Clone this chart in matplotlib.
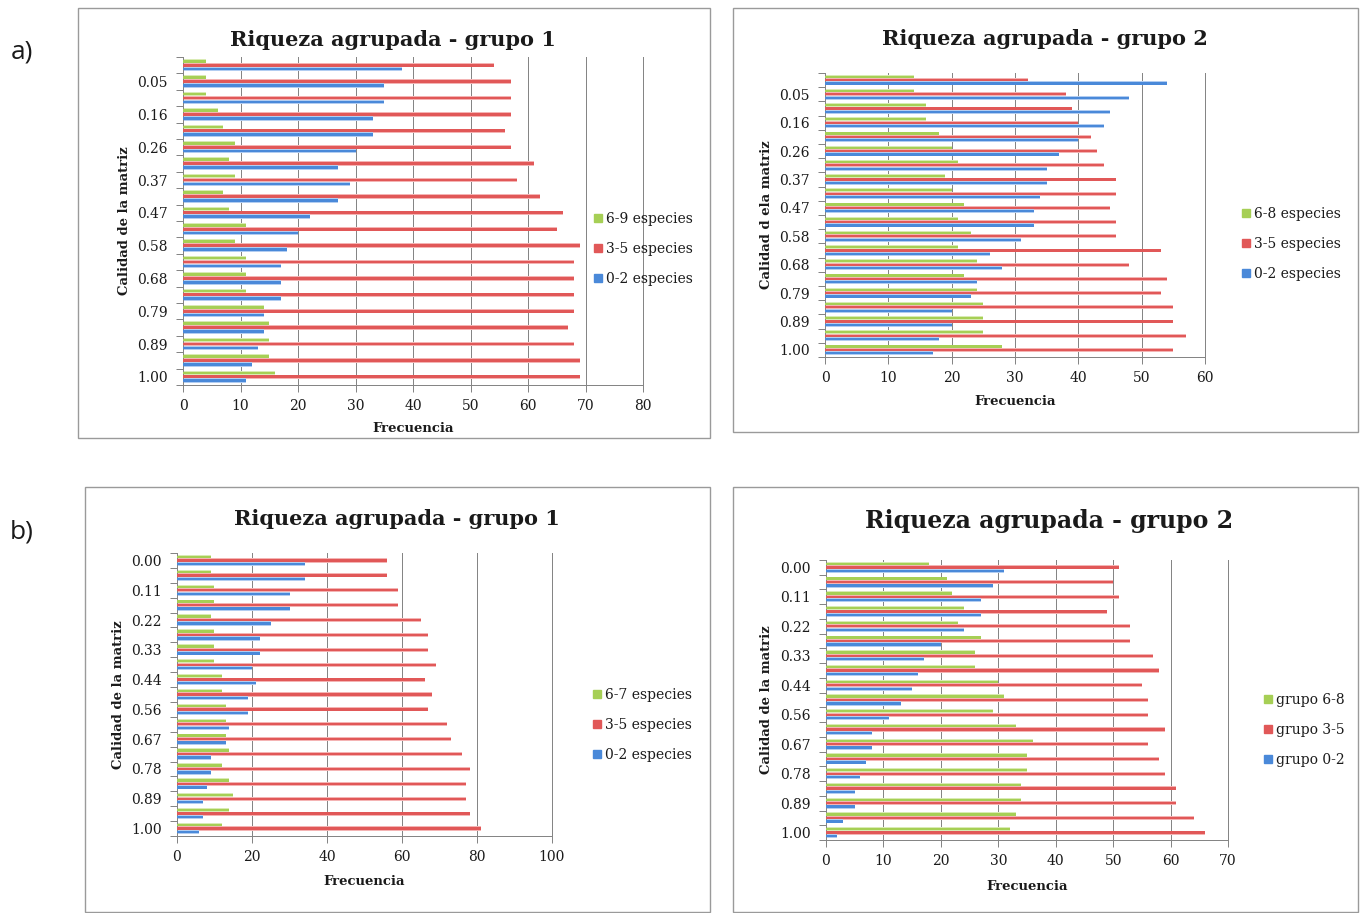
import numpy as np
import matplotlib
matplotlib.use("Agg")
import matplotlib.pyplot as plt
from matplotlib.lines import Line2D
from matplotlib.patches import Rectangle

# ---- data -------------------------------------------------------------
cats_a = ["0.00", "0.05", "0.11", "0.16", "0.21", "0.26", "0.32", "0.37", "0.42", "0.47",
          "0.53", "0.58", "0.63", "0.68", "0.74", "0.79", "0.84", "0.89", "0.95", "1.00"]
cats_b = ["0.00", "0.06", "0.11", "0.17", "0.22", "0.28", "0.33", "0.39", "0.44", "0.50",
          "0.56", "0.61", "0.67", "0.72", "0.78", "0.83", "0.89", "0.94", "1.00"]

# a) grupo 1
a1_high = [4, 4, 4, 6, 7, 9, 8, 9, 7, 8, 11, 9, 11, 11, 11, 14, 15, 15, 15, 16]
a1_mid = [54, 57, 57, 57, 56, 57, 61, 58, 62, 66, 65, 69, 68, 68, 68, 68, 67, 68, 69, 69]
a1_low = [38, 35, 35, 33, 33, 30, 27, 29, 27, 22, 20, 18, 17, 17, 17, 14, 14, 13, 12, 11]

# a) grupo 2
a2_high = [14, 14, 16, 16, 18, 20, 21, 19, 20, 22, 21, 23, 21, 24, 22, 24, 25, 25, 25, 28]
a2_mid = [32, 38, 39, 40, 42, 43, 44, 46, 46, 45, 46, 46, 53, 48, 54, 53, 55, 55, 57, 55]
a2_low = [54, 48, 45, 44, 40, 37, 35, 35, 34, 33, 33, 31, 26, 28, 24, 23, 20, 20, 18, 17]

# b) grupo 1
b1_high = [9, 9, 10, 10, 9, 10, 10, 10, 12, 12, 13, 13, 13, 14, 12, 14, 15, 14, 12]
b1_mid = [56, 56, 59, 59, 65, 67, 67, 69, 66, 68, 67, 72, 73, 76, 78, 77, 77, 78, 81]
b1_low = [34, 34, 30, 30, 25, 22, 22, 20, 21, 19, 19, 14, 13, 9, 9, 8, 7, 7, 6]

# b) grupo 2
b2_high = [18, 21, 22, 24, 23, 27, 26, 26, 30, 31, 29, 33, 36, 35, 35, 34, 34, 33, 32]
b2_mid = [51, 50, 51, 49, 53, 53, 57, 58, 55, 56, 56, 59, 56, 58, 59, 61, 61, 64, 66]
b2_low = [31, 29, 27, 27, 24, 20, 17, 16, 15, 13, 11, 8, 8, 7, 6, 5, 5, 3, 2]

legend_a1 = ["6-9 especies", "3-5 especies", "0-2 especies"]
legend_a2 = ["6-8 especies", "3-5 especies", "0-2 especies"]
legend_b1 = ["6-7 especies", "3-5 especies", "0-2 especies"]
legend_b2 = ["grupo 6-8", "grupo 3-5", "grupo 0-2"]

# ---- style ------------------------------------------------------------
W, H = 1367, 913
SERIF = ["DejaVu Serif"]
CORE = ["#a6cf55", "#e15858", "#4a89d9"]
HALO = ["#d9ebb4", "#f4b4b4", "#b2cdf1"]
GRID = "#858585"
TXT = "#1a1a1a"
PX = 72 / 100  # one pixel in points

plt.rcParams["font.family"] = SERIF

fig = plt.figure(figsize=(W / 100, H / 100), dpi=100)


def fx(x):
    return x / W


def fy(y):
    return 1 - y / H


def panel(box, frame, cats, series, labels, xmax, xstep, label_start,
          title, title_xy, title_size, ylab, ylab_x, xlab_y, leg_xy):
    l, t, r, b = box
    # chart frame
    fl, ft, fr, fb = frame
    fig.patches.append(Rectangle((fx(fl), fy(fb)), (fr - fl) / W, (fb - ft) / H,
                                 transform=fig.transFigure, fill=False,
                                 edgecolor="#9a9a9a", lw=1.0))
    ax = fig.add_axes([fx(l), fy(b), (r - l) / W, (b - t) / H])
    n = len(cats)
    y = np.arange(n)
    offsets = [-0.235, 0.0, 0.235]
    for vals, off, c, h in zip(series, offsets, CORE, HALO):
        ax.barh(y + off, vals, height=0.28, color=h, lw=0, zorder=2)
        ax.barh(y + off, vals, height=0.16, color=c, lw=0, zorder=3)
    ax.set_xlim(0, xmax)
    ax.set_ylim(n - 0.5, -0.5)
    ax.set_xticks(np.arange(0, xmax + 1, xstep))
    ax.set_axisbelow(True)
    ax.xaxis.grid(True, color=GRID, lw=PX)
    for gl in ax.get_xgridlines():
        gl.set_clip_on(False)
        gl.set_snap(True)
    ax.yaxis.grid(False)
    shown = list(range(label_start, n, 2))
    ax.set_yticks(shown)
    ax.set_yticklabels([cats[i] for i in shown])
    ax.set_yticks(np.arange(-0.5, n, 1.0), minor=True)
    ax.tick_params(axis="y", which="major", length=0, pad=11, labelsize=10, labelcolor=TXT)
    ax.tick_params(axis="y", which="minor", length=5, width=PX, color=GRID, direction="out")
    ax.tick_params(axis="x", which="major", length=5, width=PX, color=GRID, direction="out",
                   pad=5, labelsize=10, labelcolor=TXT)
    for s in ("top", "right"):
        ax.spines[s].set_visible(False)
    for s in ("left", "bottom"):
        ax.spines[s].set_color(GRID)
        ax.spines[s].set_linewidth(PX)
    fig.text(fx(title_xy[0]), fy(title_xy[1]), title, ha="center", va="center",
             fontsize=title_size, fontweight="bold", color=TXT)
    fig.text(fx(ylab_x), fy((t + b) / 2), ylab, rotation=90, ha="center", va="center",
             fontsize=9.5, fontweight="bold", color=TXT)
    fig.text(fx((l + r) / 2), fy(xlab_y), "Frecuencia", ha="center", va="center",
             fontsize=9.5, fontweight="bold", color=TXT)
    handles = [Line2D([], [], ls="", marker="s", markersize=6, color=c) for c in CORE]
    fig.legend(handles, labels, loc="center left",
               bbox_to_anchor=(fx(leg_xy[0]), fy(leg_xy[1])), frameon=False,
               fontsize=10, handletextpad=0.2, handlelength=0.8, labelspacing=1.15,
               borderaxespad=0, borderpad=0, labelcolor=TXT)
    return ax


panel((183, 57, 643, 385), (78, 8, 710, 438), cats_a, [a1_high, a1_mid, a1_low],
      legend_a1, 80, 10, 1, "Riqueza agrupada - grupo 1", (393, 40), 15,
      "Calidad de la matriz", 125, 428, (592, 249))
panel((825, 73, 1205, 357), (733, 8, 1358, 432), cats_a, [a2_high, a2_mid, a2_low],
      legend_a2, 60, 10, 1, "Riqueza agrupada - grupo 2", (1045, 39), 15,
      "Calidad d ela matriz", 767, 401, (1240, 244))
panel((177, 553, 552, 836), (85, 487, 710, 912), cats_b, [b1_high, b1_mid, b1_low],
      legend_b1, 100, 20, 0, "Riqueza agrupada - grupo 1", (397, 519), 15,
      "Calidad de la matriz", 118, 881, (591, 725))
panel((826, 560, 1228, 840), (733, 487, 1358, 912), cats_b, [b2_high, b2_mid, b2_low],
      legend_b2, 70, 10, 0, "Riqueza agrupada - grupo 2", (1049, 521), 17,
      "Calidad de la matriz", 767, 886, (1262, 730))

fig.text(fx(22), fy(52), "a)", ha="center", va="center", fontsize=19,
         family=["Open Sans", "DejaVu Sans"], color=TXT)
fig.text(fx(22), fy(532), "b)", ha="center", va="center", fontsize=19,
         family=["Open Sans", "DejaVu Sans"], color=TXT)

fig.savefig("out.png", dpi=100, facecolor="white")
